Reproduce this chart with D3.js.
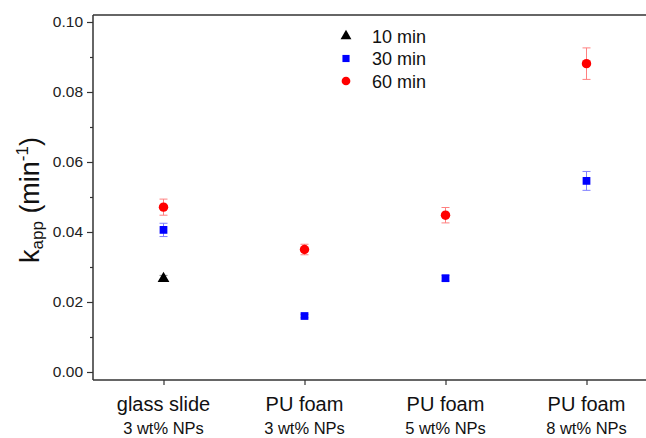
<!DOCTYPE html>
<html>
<head>
<meta charset="utf-8">
<script src="https://cdn.jsdelivr.net/npm/d3@7"></script>
<style>
  body { margin: 0; background: #fff; }
  text { font-family: "Liberation Sans", Arial, sans-serif; }
</style>
</head>
<body>
<svg width="646" height="438"></svg>
<script>
const svg = d3.select("svg");

// categories and sub labels
const categories = ["glass slide", "PU foam", "PU foam", "PU foam"];
const subLabels = ["3 wt% NPs", "3 wt% NPs", "5 wt% NPs", "8 wt% NPs"];

// series values (null = no measurement)
const k10 = [0.0270, null, null, null];
const err10 = [0.0006, null, null, null];
const k30 = [0.0406, 0.0160, 0.0268, 0.0546];
const err30 = [0.0019, 0.0005, 0.0008, 0.0027];
const k60 = [0.0471, 0.0350, 0.0448, 0.0881];
const err60 = [0.0023, 0.0015, 0.0022, 0.0045];

const yTicks = [0.00, 0.02, 0.04, 0.06, 0.08, 0.10];
const yMinor = [0.01, 0.03, 0.05, 0.07, 0.09];

const series = [
  { name: "10 min", values: k10, errs: err10, color: "#000", errColor: "#888", shape: d3.symbolTriangle, size: 60 },
  { name: "30 min", values: k30, errs: err30, color: "#0000ff", errColor: "#8080ff", shape: d3.symbolSquare, size: 60 },
  { name: "60 min", values: k60, errs: err60, color: "#ff0000", errColor: "#ff8080", shape: d3.symbolCircle, size: 70 }
];

const plotLeft = 93, plotTop = 15, plotBottom = 380;

const x = d3.scaleLinear().domain([-0.5, 3.5]).range([plotLeft, plotLeft + 564]);
const y = d3.scaleLinear().domain([0, 0.1]).range([372, 22]);

// frame (right side is cropped in the original)
const axisColor = "#333";
svg.append("line").attr("x1", plotLeft).attr("x2", 646).attr("y1", plotTop).attr("y2", plotTop)
  .attr("stroke", axisColor).attr("stroke-width", 1.5);
svg.append("line").attr("x1", plotLeft).attr("x2", 646).attr("y1", plotBottom).attr("y2", plotBottom)
  .attr("stroke", axisColor).attr("stroke-width", 1.5);
svg.append("line").attr("x1", plotLeft).attr("x2", plotLeft).attr("y1", plotTop).attr("y2", plotBottom)
  .attr("stroke", axisColor).attr("stroke-width", 1.5);

// y axis
const yAxis = svg.append("g").attr("transform", `translate(${plotLeft},0)`)
  .call(d3.axisLeft(y).tickValues(yTicks).tickFormat(d3.format(".2f")).tickSize(6).tickPadding(4));
yAxis.select(".domain").remove();
yAxis.selectAll("line").attr("stroke", axisColor).attr("stroke-width", 1.2);
yAxis.selectAll("text").attr("font-size", 15.5).attr("fill", "#222")
  .style("font-family", "'Liberation Sans', Arial, sans-serif");

const yMinorAxis = svg.append("g").attr("transform", `translate(${plotLeft},0)`)
  .call(d3.axisLeft(y).tickValues(yMinor).tickFormat("").tickSize(3));
yMinorAxis.select(".domain").remove();
yMinorAxis.selectAll("line").attr("stroke", axisColor).attr("stroke-width", 1.2);

// x axis
const xAxis = svg.append("g").attr("transform", `translate(0,${plotBottom})`)
  .call(d3.axisBottom(x).tickValues([0, 1, 2, 3]).tickFormat("").tickSize(5));
xAxis.select(".domain").remove();
xAxis.selectAll("line").attr("stroke", axisColor).attr("stroke-width", 1.2);

const labels = svg.append("g");
labels.selectAll("text.cat").data(categories).join("text")
  .attr("class", "cat")
  .attr("x", (d, i) => x(i)).attr("y", 411)
  .attr("text-anchor", "middle").attr("font-size", 20).attr("fill", "#111")
  .text(d => d);
labels.selectAll("text.sub").data(subLabels).join("text")
  .attr("class", "sub")
  .attr("x", (d, i) => x(i)).attr("y", 434)
  .attr("text-anchor", "middle").attr("font-size", 16.5).attr("fill", "#111")
  .text(d => d);

// y title
const yTitle = svg.append("text")
  .attr("transform", "translate(39,200) rotate(-90)")
  .attr("text-anchor", "middle").attr("font-size", 27).attr("fill", "#111");
yTitle.append("tspan").text("k");
yTitle.append("tspan").attr("font-size", 17).attr("dy", 4).text("app");
yTitle.append("tspan").attr("dy", -4).text(" (min");
yTitle.append("tspan").attr("font-size", 17).attr("dy", -11).text("-1");
yTitle.append("tspan").attr("dy", 11).text(")");

// points with error bars
series.forEach(s => {
  const pts = s.values.map((v, i) => ({ i, v, e: s.errs[i] })).filter(d => d.v != null);
  const g = svg.append("g");
  const eb = g.selectAll("g.eb").data(pts).join("g").attr("class", "eb")
    .attr("stroke", s.errColor).attr("stroke-width", 1);
  eb.append("line")
    .attr("x1", d => x(d.i)).attr("x2", d => x(d.i))
    .attr("y1", d => y(d.v + d.e)).attr("y2", d => y(d.v - d.e));
  [1, -1].forEach(sign => {
    eb.append("line")
      .attr("x1", d => x(d.i) - 4).attr("x2", d => x(d.i) + 4)
      .attr("y1", d => y(d.v + sign * d.e)).attr("y2", d => y(d.v + sign * d.e));
  });
  g.selectAll("path").data(pts).join("path")
    .attr("d", d3.symbol().type(s.shape).size(s.size))
    .attr("transform", d => `translate(${x(d.i)},${y(d.v) + (s.shape === d3.symbolTriangle ? 1 : 0)})`)
    .attr("fill", s.color);
});

// legend
const legend = svg.append("g").attr("transform", "translate(346,36)");
const item = legend.selectAll("g").data(series).join("g")
  .attr("transform", (d, i) => `translate(0,${i * 22.5})`);
item.append("path")
  .attr("d", d => d3.symbol().type(d.shape).size(d.size * 0.85)())
  .attr("fill", d => d.color);
item.append("text")
  .attr("x", 26).attr("y", 6.5)
  .attr("font-size", 18).attr("fill", "#111")
  .text(d => d.name);
</script>
</body>
</html>
